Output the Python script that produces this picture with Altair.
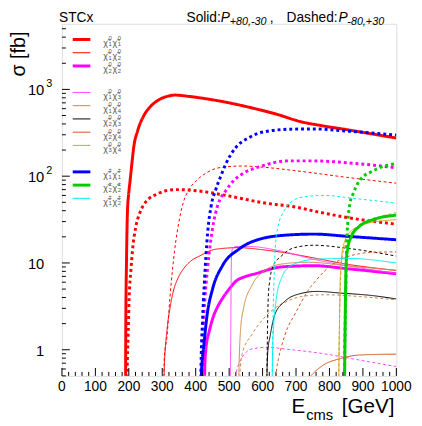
import altair as alt
import pandas as pd

CHI = "\u03c7\u0303"
# process categories (blank strings are spacer rows in the legend)
N11, N12, N22 = "n11", "n12", "n22"
N13, N14, N23, N24, N34 = "n13", "n14", "n23", "n24", "n34"
C11, C22, C12 = "c11", "c22", "c12"
PROCS = [N11, N12, N22, " ", N13, N14, N23, N24, N34, "  ", C11, C22, C12]
COLORS = ["#ff0000", "#ff0000", "#ff00ff", "rgba(0,0,0,0)", "#ff44ff", "#cc8844",
          "#000000", "#cc5522", "#d4a020", "rgba(0,0,0,0)", "#0000ff", "#00cc00", "#00eeee"]
WIDTHS = [3, 1, 3, 0, 1, 1, 1, 1, 1, 0, 3, 3, 1]
THICK = [N11, N22, C11, C22]
# legend label pieces (super/subscripts of the two charginos/neutralinos)
LEG_SUP1 = ["0", "0", "0", "0", "0", "0", "0", "0", "\u00b1", "\u00b1", "\u00b1"]
LEG_SUB1 = ["1", "1", "2", "1", "1", "2", "2", "3", "1", "2", "1"]
LEG_SUP2 = ["0", "0", "0", "0", "0", "0", "0", "0", "\u00b1", "\u00b1", "\u00b1"]
LEG_SUB2 = ["1", "2", "2", "3", "4", "3", "4", "4", "1", "2", "2"]

# cross sections: energies [GeV] and sigma [fb]
E_N11_S = [190, 191, 193, 196, 200, 204, 210, 215, 226, 245, 264, 290, 320, 337, 380, 431, 500, 557, 640, 715, 780, 851, 920, 1000]
S_N11_S = [0.1, 2, 10, 40, 65, 90, 150, 220, 330, 500, 630, 760, 840, 860, 830, 780, 700, 626, 520, 424, 380, 344, 310, 275]
E_N11_D = [191, 195, 198, 201, 206, 211, 220, 232, 245, 260, 284, 310, 343, 402, 490, 607, 700, 762, 861, 1000]
S_N11_D = [0.1, 0.6, 1.5, 4, 8, 14, 25, 37, 47, 55, 62, 68, 70, 68, 60, 49, 44, 39, 33, 28]
E_N12_S = [303, 306, 314, 323, 333, 348, 363, 385, 411, 460, 528, 600, 656, 750, 851, 1000]
S_N12_S = [0.1, 0.6, 1.66, 3, 4.7, 6.8, 8.5, 10.5, 12, 14.4, 15, 14.2, 13.3, 11.5, 9.7, 8.2]
E_N12_D = [303, 306, 314, 323, 337, 352, 363, 380, 402, 430, 470, 539, 600, 704, 851, 1000]
S_N12_D = [0.1, 0.8, 1.4, 4, 14, 33, 50, 70, 89, 108, 125, 131, 127, 115, 97, 83]
E_N22_S = [424, 427, 431, 440, 451, 465, 480, 500, 519, 550, 578, 620, 656, 754, 851, 1000]
S_N22_S = [0.1, 0.6, 1.07, 1.6, 2.3, 3.1, 3.9, 5, 6.1, 7, 7.5, 8.4, 9, 9.3, 8.6, 7.5]
E_N22_D = [419, 421, 422, 428, 436, 451, 465, 490, 515, 539, 598, 676, 754, 851, 1000]
S_N22_D = [0.1, 0.8, 1.5, 4, 9, 26, 45, 68, 90, 106, 131, 150, 150, 143, 125]
E_C11_S = [415, 417, 420, 424, 434, 451, 480, 529, 587, 676, 754, 851, 1000]
S_C11_S = [0.1, 0.5, 0.8, 1.1, 2.5, 5.1, 9.3, 14.4, 18.6, 21, 21.5, 20.3, 18.5]
E_C11_D = [413, 416, 420, 426, 436, 446, 460, 475, 490, 519, 557, 607, 685, 754, 851, 1000]
S_C11_D = [0.1, 0.7, 2, 6, 23, 45, 70, 100, 138, 212, 275, 326, 348, 350, 331, 298]
E_C22_S = [844, 845.5, 847, 848.5, 850, 855, 865, 890, 930, 1000]
S_C22_S = [0.1, 0.6, 2, 6, 10, 15, 20, 26.5, 31.5, 35.5]
E_C22_D = [844, 845.5, 847, 849, 851, 855, 861, 871, 890, 930, 1000]
S_C22_D = [0.1, 0.8, 2, 5, 14, 30, 48, 63, 89, 115, 140]
E_C12_S = [627, 629, 630, 633, 641, 656, 685, 754, 851, 1000]
S_C12_S = [0.1, 0.5, 1, 1.8, 3.9, 6.6, 9.3, 11, 11.3, 10]
E_C12_D = [627, 629, 631, 634, 638, 645, 666, 690, 715, 783, 880, 1000]
S_C12_D = [0.1, 0.5, 2, 6, 15, 25, 41, 52, 57, 60, 55, 49]
E_N23_S = [612, 613, 616, 622, 636, 666, 715, 762, 832, 930, 1000]
S_N23_S = [0.1, 0.5, 1, 1.4, 2.5, 3.6, 4.45, 4.7, 4.5, 4.2, 3.85]
E_N23_D = [611, 613, 615, 617, 622, 632, 656, 695, 754, 851, 1000]
S_N23_D = [0.1, 0.5, 2, 4, 6.5, 9.3, 12, 15, 16, 14.8, 12]
E_N13_S = [503, 504, 505, 506, 507, 510, 519, 557, 656, 754, 851, 1000]
S_N13_S = [0.1, 0.5, 2, 6, 12, 14.5, 15.5, 15.5, 13.7, 11, 9.3, 7.6]
E_N13_D = [503, 512, 519, 539, 568, 617, 666, 783, 890, 1000]
S_N13_D = [0.1, 0.35, 0.5, 0.82, 1.02, 1.07, 1.02, 0.9, 0.76, 0.64]
E_N14_S = [528, 529, 534, 543, 568, 607, 656, 734, 851, 1000]
S_N14_S = [0.1, 0.5, 1.66, 3, 5.5, 8.2, 9.7, 10.2, 9.3, 8.2]
E_N14_D = [527, 532, 539, 568, 597, 636, 666, 715, 783, 890, 1000]
S_N14_D = [0.1, 0.5, 0.9, 1.5, 2.15, 3, 3.5, 4.1, 4.3, 4.1, 3.75]
E_N24_S = [646, 700, 744, 783, 832, 890, 1000]
S_N24_S = [0.05, 0.3, 0.5, 0.67, 0.79, 0.87, 0.89]
E_N24_D = [638, 640, 648, 656, 675, 695, 715, 734, 760, 783, 815, 851, 890, 930, 1000]
S_N24_D = [0.1, 0.5, 0.8, 1.07, 1.8, 2.5, 3.5, 4.7, 6.3, 7.9, 10, 11.7, 12.8, 13.3, 13.4]
E_N34_S = [827, 828, 830, 832, 835, 842, 861, 890, 920, 1000]
S_N34_S = [0.1, 0.5, 2, 6, 10, 16, 22.5, 26.5, 29, 31.5]
E_N34_D = [827, 828, 830, 833, 836, 846, 871, 920, 960, 1000]
S_N34_D = [0.1, 0.5, 2, 6, 10, 15.6, 23.5, 31.5, 35, 38]

SERIES = [
    (N11, "S", E_N11_S, S_N11_S), (N11, "D", E_N11_D, S_N11_D),
    (N12, "S", E_N12_S, S_N12_S), (N12, "D", E_N12_D, S_N12_D),
    (N22, "S", E_N22_S, S_N22_S), (N22, "D", E_N22_D, S_N22_D),
    (N13, "S", E_N13_S, S_N13_S), (N13, "D", E_N13_D, S_N13_D),
    (N14, "S", E_N14_S, S_N14_S), (N14, "D", E_N14_D, S_N14_D),
    (N23, "S", E_N23_S, S_N23_S), (N23, "D", E_N23_D, S_N23_D),
    (N24, "S", E_N24_S, S_N24_S), (N24, "D", E_N24_D, S_N24_D),
    (N34, "S", E_N34_S, S_N34_S), (N34, "D", E_N34_D, S_N34_D),
    (C11, "S", E_C11_S, S_C11_S), (C11, "D", E_C11_D, S_C11_D),
    (C22, "S", E_C22_S, S_C22_S), (C22, "D", E_C22_D, S_C22_D),
    (C12, "S", E_C12_S, S_C12_S), (C12, "D", E_C12_D, S_C12_D),
]

# axis tick values and labels
XT_MAJOR = [0, 100, 200, 300, 400, 500, 600, 700, 800, 900, 1000]
XT_LABELS = ["0", "100", "200", "300", "400", "500", "600", "700", "800", "900", "1000"]
XT_MINOR = [v for v in range(0, 1001, 20) if v % 100]
YT_MAJOR = [1, 10, 100, 1000]
YT_BASE = ["1", "10", "10", "10"]
YT_EXP = ["", "", "2", "3"]
YT_MINOR = [m * d for d in [0.1, 1, 10, 100, 1000] for m in range(2, 10) if 0.5 <= m * d <= 5700]

W, H = 341, 359

rows = []
for proc, pol, es, ss in SERIES:
    style = "solid" if pol == "S" else ("dot" if proc in THICK else "dash")
    for e, s in zip(es, ss):
        rows.append({"E": e, "sigma": s, "proc": proc, "style": style, "key": proc + pol})
df = pd.DataFrame(rows)

xs = alt.Scale(domain=[0, 1000], nice=False)
ys = alt.Scale(type="log", domain=[0.5, 5700], nice=False)
cscale = alt.Scale(domain=PROCS, range=COLORS)
wscale = alt.Scale(domain=PROCS, range=WIDTHS, type="ordinal")

lines = alt.Chart(df).mark_line(clip=True, interpolate="monotone").encode(
    x=alt.X("E:Q", scale=xs, axis=None),
    y=alt.Y("sigma:Q", scale=ys, axis=None),
    color=alt.Color("proc:N", scale=cscale, legend=None),
    strokeWidth=alt.StrokeWidth("proc:N", scale=wscale, legend=None),
    strokeDash=alt.StrokeDash("style:N", scale=alt.Scale(domain=["solid", "dot", "dash"],
                                                          range=[[1, 0], [3, 3], [3, 2.5]]), legend=None),
    detail="key:N",
)

def xticks(vals, length):
    return alt.Chart(pd.DataFrame({"E": vals})).mark_rule(color="black", strokeWidth=1).encode(
        x=alt.X("E:Q", scale=xs, axis=None), y=alt.value(H), y2=alt.value(H - length))

def yticks(vals, length):
    return alt.Chart(pd.DataFrame({"sigma": vals})).mark_rule(color="black", strokeWidth=1).encode(
        y=alt.Y("sigma:Q", scale=ys, axis=None), x=alt.value(0), x2=alt.value(length))

xlabels = alt.Chart(pd.DataFrame({"E": XT_MAJOR, "lab": XT_LABELS})).mark_text(
    baseline="top", align="center", fontSize=14, font="Liberation Sans", color="black").encode(
    x=alt.X("E:Q", scale=xs, axis=None), y=alt.value(H + 4), text="lab:N")

ydf = pd.DataFrame({"sigma": YT_MAJOR, "base": YT_BASE, "exp": YT_EXP})
ylabels = alt.Chart(ydf).mark_text(
    baseline="middle", align="right", fontSize=15, font="Liberation Sans", color="black", dy=1).encode(
    y=alt.Y("sigma:Q", scale=ys, axis=None), x=alt.value(-18), text="base:N")
yexp = alt.Chart(ydf).mark_text(
    baseline="middle", align="left", fontSize=11, font="Liberation Sans", color="black", dy=-5).encode(
    y=alt.Y("sigma:Q", scale=ys, axis=None), x=alt.value(-16), text="exp:N")

# legend (rows follow the order of PROCS, blank categories leave gaps)
LEG_ROWS = [i for i, p in enumerate(PROCS) if p.strip()]
leg_df = pd.DataFrame({"proc": [PROCS[i] for i in LEG_ROWS], "row": LEG_ROWS,
                       "sup1": LEG_SUP1, "sub1": LEG_SUB1, "sup2": LEG_SUP2, "sub2": LEG_SUB2})
legy = alt.Y("row:Q", scale=alt.Scale(domain=[0, len(PROCS) - 1], range=[16, 178], nice=False), axis=None)
leg_lines = alt.Chart(leg_df).mark_rule().encode(
    x=alt.value(11), x2=alt.value(29), y=legy,
    color=alt.Color("proc:N", scale=cscale, legend=None),
    strokeWidth=alt.StrokeWidth("proc:N", scale=wscale, legend=None))

def leg_text(x, dy, size, field=None, const=None):
    kw = dict(align="left", baseline="middle", fontSize=size, font="Liberation Sans", color="#555555", dy=dy)
    if const is not None:
        return alt.Chart(leg_df).mark_text(text=const, **kw).encode(x=alt.value(x), y=legy)
    return alt.Chart(leg_df).mark_text(**kw).encode(x=alt.value(x), y=legy, text=field + ":N")

leg_texts = [
    leg_text(42, 3.5, 9, const=CHI),
    leg_text(47.5, -1.5, 6, field="sup1"),
    leg_text(47.5, 5, 6, field="sub1"),
    leg_text(51.5, 3.5, 9, const=CHI),
    leg_text(57, -1.5, 6, field="sup2"),
    leg_text(57, 5, 6, field="sub2"),
]

def label(txt, x, y, size=14, italic=False, align="left", angle=0, baseline="alphabetic"):
    kw = dict(align=align, baseline=baseline, fontSize=size, font="Liberation Sans", color="black")
    if italic:
        kw["fontStyle"] = "italic"
    if angle:
        kw["angle"] = angle
    return alt.Chart(pd.DataFrame({"t": [txt]})).mark_text(**kw).encode(
        text="t:N", x=alt.value(x), y=alt.value(y))

texts = [
    label("STCx", -3, -2),
    label("Solid:", 127, -2),
    label("P", 162, -2, italic=True),
    label("+80,-30", 171, 1, size=11, italic=True),
    label(",", 212, -2),
    label("Dashed:", 229, -2),
    label("P", 282, -2, italic=True),
    label("-80,+30", 291, 1, size=11, italic=True),
    label("\u03c3 [fb]", -44, 8, size=20, align="right", angle=270, baseline="middle"),
    label("E", 234, 397, size=21),
    label("cms", 249, 403.5, size=15),
    label("[GeV]", 339, 397, size=21, align="right"),
]

chart = alt.layer(
    lines,
    xticks(XT_MAJOR, 8), xticks(XT_MINOR, 4),
    yticks(YT_MAJOR, 8), yticks(YT_MINOR, 4),
    xlabels, ylabels, yexp,
    leg_lines, *leg_texts,
    *texts,
).resolve_scale(y="independent").properties(
    width=W, height=H,
    padding={"left": 55, "top": 12, "right": 18, "bottom": 46},
    autosize="none",
).configure_view(stroke="black", strokeWidth=1).configure(font="Liberation Sans")

chart.save("out.html", embed_options={"renderer": "svg", "actions": False})
